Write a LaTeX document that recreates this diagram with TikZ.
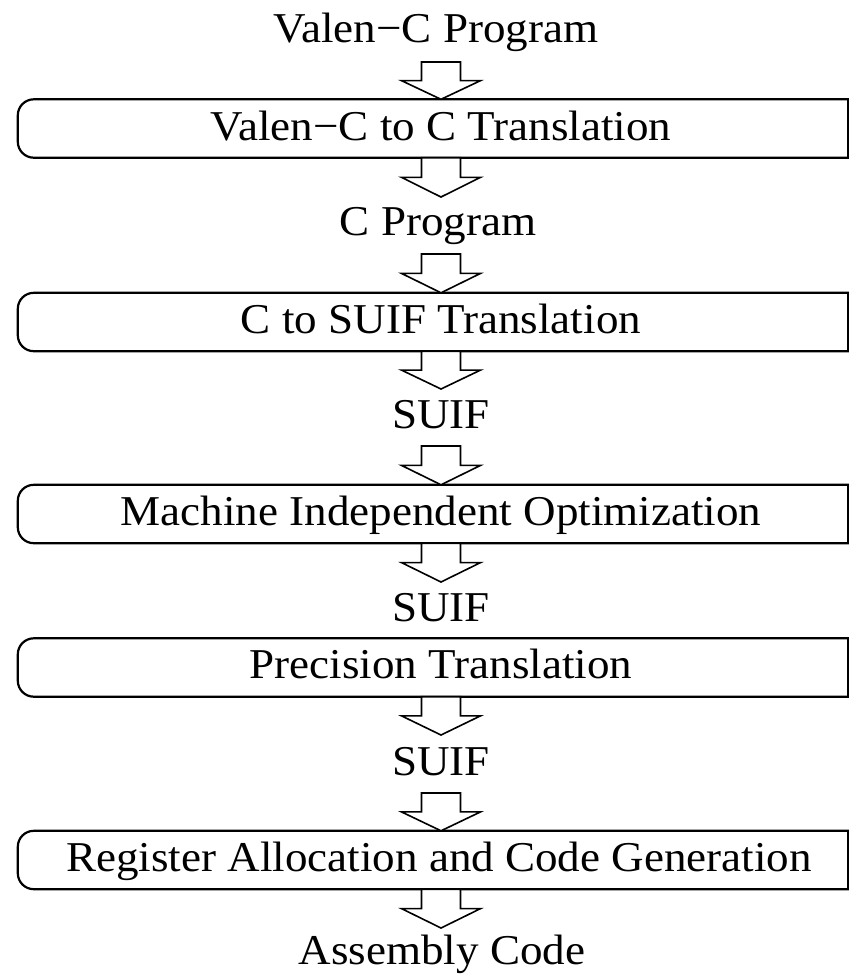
\documentclass[tikz,border=0pt]{standalone}
\usepackage{fontspec}
\setmainfont[FakeStretch=1.06]{Liberation Serif}
\usetikzlibrary{calc}

\tikzset{
  flowtext/.style={inner sep=0pt, anchor=base, font=\fontsize{42.5}{48}\selectfont},
  stagebox/.style={inner sep=0pt, minimum width=830pt, minimum height=58pt},
  stageline/.style={draw=black, line width=2.2pt},
  blockarrow/.style={draw=black, fill=white, line width=1.6pt, line join=miter},
}

% Hollow block arrow pointing down, from coordinate #1 to the level of #2
\newcommand\flowarrow[2]{%
  \coordinate (fa-s) at (#1);
  \coordinate (fa-e) at (#1 |- #2);
  \coordinate (fa-m) at ($(fa-s)!0.5!(fa-e)$);
  \draw[blockarrow] ($(fa-s)+(-19.5,0)$) -- ($(fa-m)+(-19.5,0)$)
    -- ($(fa-m)+(-39.5,0)$) -- (fa-e) -- ($(fa-m)+(39.5,0)$)
    -- ($(fa-m)+(19.5,0)$) -- ($(fa-s)+(19.5,0)$) -- cycle;}

% Stage outline: rounded on the left, square on the right
\newcommand\stageoutline[1]{%
  \draw[stageline] (#1.north east) [rounded corners=16pt] -- (#1.north west)
    -- (#1.south west) [sharp corners] -- (#1.south east) -- cycle;}

\begin{document}
\begin{tikzpicture}[x=1pt, y=-1pt]
  \useasboundingbox (0,0) rectangle (849,975);
  \coordinate (axis) at (441,0);

  % processing stages
  \node[stagebox] (b1) at (433,128.5) {};
  \node[stagebox] (b2) at (433,322) {};
  \node[stagebox] (b3) at (433,514) {};
  \node[stagebox] (b4) at (433,667.5) {};
  \node[stagebox] (b5) at (433,860) {};
  \foreach \b in {b1,b2,b3,b4,b5} {\stageoutline{\b}}

  \node[flowtext] (b1t) at ($(b1.center)+(8,11.5)$) {Valen−C to C Translation};
  \node[flowtext] (b2t) at ($(b2.center)+(8,11)$) {C to SUIF Translation};
  \node[flowtext] (b3t) at ($(b3.center)+(8,11)$) {Machine Independent Optimization};
  \node[flowtext] (b4t) at ($(b4.center)+(8,11)$) {Precision Translation};
  \node[flowtext] (b5t) at ($(b5.center)+(6,11)$) {Register Allocation and Code Generation};

  % intermediate representations
  \node[flowtext] (t0) at (436,42) {Valen−C Program};
  \node[flowtext] (t1) at (438,235) {C Program};
  \node[flowtext] (t2) at (441,428) {SUIF};
  \node[flowtext] (t3) at (441,621) {SUIF};
  \node[flowtext] (t4) at (441,775) {SUIF};
  \node[flowtext] (t5) at (442,964) {Assembly Code};

  % arrow ends
  \coordinate (a1s) at (441,62);
  \coordinate (a2e) at (441,197);
  \coordinate (a3s) at (441,254);
  \coordinate (a4e) at (441,389);
  \coordinate (a5s) at (441,446);
  \coordinate (a6e) at (441,582);
  \coordinate (a7e) at (441,735);
  \coordinate (a8s) at (441,793);
  \coordinate (a9e) at (441,928);

  \flowarrow{a1s}{b1.north}
  \flowarrow{axis |- b1.south}{a2e}
  \flowarrow{a3s}{b2.north}
  \flowarrow{axis |- b2.south}{a4e}
  \flowarrow{a5s}{b3.north}
  \flowarrow{axis |- b3.south}{a6e}
  \flowarrow{axis |- b4.south}{a7e}
  \flowarrow{a8s}{b5.north}
  \flowarrow{axis |- b5.south}{a9e}
\end{tikzpicture}
\end{document}
